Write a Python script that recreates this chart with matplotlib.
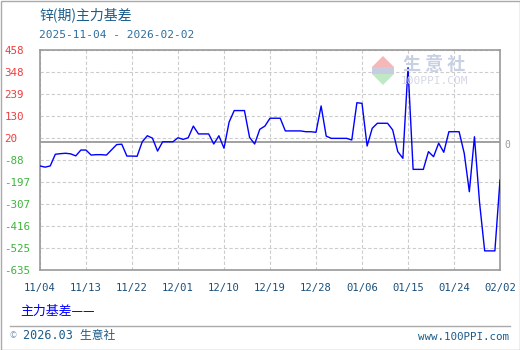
import matplotlib
matplotlib.use("Agg")
import matplotlib.pyplot as plt
import numpy as np
import pandas as pd
from matplotlib.patches import Polygon, Rectangle
from matplotlib.lines import Line2D

plt.rcParams['font.family'] = ['Noto Sans CJK SC', 'DejaVu Sans']
MONO = ['DejaVu Sans Mono', 'Noto Sans CJK SC']

# ---- data ----
start_date = "2025-11-04"
basis = [-118, -124, -118, -60, -57, -55, -58, -68, -39, -39,
         -64, -62, -62, -64, -38, -12, -10, -69, -69, -70,
         2, 32, 20, -44, 2, 2, 2, 22, 14, 22,
         80, 41, 41, 41, -9, 32, -30, 100, 157, 157,
         157, 24, -9, 64, 80, 119, 119, 119, 56, 56,
         56, 56, 52, 52, 49, 180, 30, 19, 19, 19,
         19, 11, 196, 193, -19, 69, 94, 94, 94, 61,
         -47, -80, 370, -135, -135, -135, -47, -72, -5, -50,
         52, 52, 52, -55, -246, 27, -300, -540, -540, -540,
         -188]
ytick_vals = [458, 348, 239, 130, 20, -88, -197, -307, -416, -525, -635]
xtick_labels = ["11/04", "11/13", "11/22", "12/01", "12/10", "12/19",
                "12/28", "01/06", "01/15", "01/24", "02/02"]
title = "锌(期)主力基差"
subtitle = "2025-11-04 - 2026-02-02"
legend_label = "主力基差——"

dates = pd.date_range(start_date, periods=len(basis), freq="D")
tick_dates = [pd.Timestamp(f"{'2025' if l[:2] in ('11','12') else '2026'}-{l[:2]}-{l[3:]}") for l in xtick_labels]

W, H = 520, 350
fig = plt.figure(figsize=(W / 100, H / 100), dpi=100)
fig.patch.set_facecolor("white")

ax = fig.add_axes([40 / W, 1 - 270 / H, 460 / W, 220 / H])
ax.plot(dates, basis, color="#0000ff", lw=1.0, zorder=3)
ax.axhline(0, color="#999999", lw=1.3, zorder=2)

ax.set_ylim(-635, 458)
ax.set_xlim(tick_dates[0], tick_dates[-1])
ax.set_yticks(ytick_vals)
ax.set_yticklabels([str(v) for v in ytick_vals], ha="left", family=MONO)
for lbl, v in zip(ax.get_yticklabels(), ytick_vals):
    lbl.set_color("#f03c3c" if v > 0 else "#3cb43c")
    lbl.set_fontsize(7.8)
ax.tick_params(axis="y", length=0, pad=25.5)

ax.set_xticks(tick_dates)
ax.set_xticklabels(xtick_labels, fontsize=7.6, color="#1a4f7a", family=MONO)
ax.tick_params(axis="x", length=0, pad=9)

ax.grid(True, color="#cccccc", lw=0.8, linestyle=(0, (3, 2)))
for s in ax.spines.values():
    s.set_color("#999999")
    s.set_linewidth(1.2)

# right "0" label
ax.annotate("0", xy=(1.0, 0), xycoords=ax.get_yaxis_transform(), xytext=(5, -2),
            textcoords="offset points", color="#999999", fontsize=7, va="center", ha="center",
            family=MONO)

# watermark
def px(x, y):
    return (x / W, 1 - y / H)

fig.patches.append(Polygon([px(383, 56), px(372, 67), px(394, 67)], closed=True,
                           transform=fig.transFigure, facecolor="#f5b8b8", edgecolor="none", zorder=1))
fig.patches.append(Rectangle(px(372, 74), 22 / W, 7 / H, transform=fig.transFigure,
                             facecolor="#c8cce0", edgecolor="none", zorder=1))
fig.patches.append(Polygon([px(372, 74), px(394, 74), px(383, 85)], closed=True,
                           transform=fig.transFigure, facecolor="#bfe8c4", edgecolor="none", zorder=1))
fig.text(403 / W, 1 - 65 / H, "生 意 社", fontsize=13, color="#c8d0e4", va="center", ha="left",
         fontweight="bold", zorder=1)
fig.text(401 / W, 1 - 81 / H, "100PPI.COM", fontsize=8, color="#d4d8e4", va="center", ha="left",
         zorder=1, family=MONO)

# titles
fig.text(39 / W, 1 - 15 / H, title, fontsize=10, color="#1a5c8c", va="center", ha="left")
fig.text(39 / W, 1 - 35 / H, subtitle, fontsize=8, color="#2e6e9e", va="center", ha="left", family=MONO)

# legend
fig.text(20 / W, 1 - 311 / H, legend_label, fontsize=9.3, color="#0000ff", va="center", ha="left")

# footer
fig.add_artist(Line2D([10 / W, 510 / W], [1 - 326 / H] * 2, color="#aaaaaa", lw=1,
                      transform=fig.transFigure))
fig.text(10 / W, 1 - 336 / H, "©", fontsize=6, color="#7a9ab8", va="center", ha="left")
fig.text(23 / W, 1 - 336 / H, "2026.03 生意社", fontsize=8.5, color="#1a5c8c", va="center", ha="left",
         family=MONO)
fig.text(509 / W, 1 - 337 / H, "www.100PPI.com", fontsize=7.8, color="#1a5c8c", va="center", ha="right",
         family=MONO)

# outer border
fig.patches.append(Rectangle((0.5 / W, 0.5 / H), (W - 1) / W, (H - 1) / H, transform=fig.transFigure,
                             facecolor="none", edgecolor="#aaaaaa", lw=1))

fig.savefig("out.png", dpi=100)
